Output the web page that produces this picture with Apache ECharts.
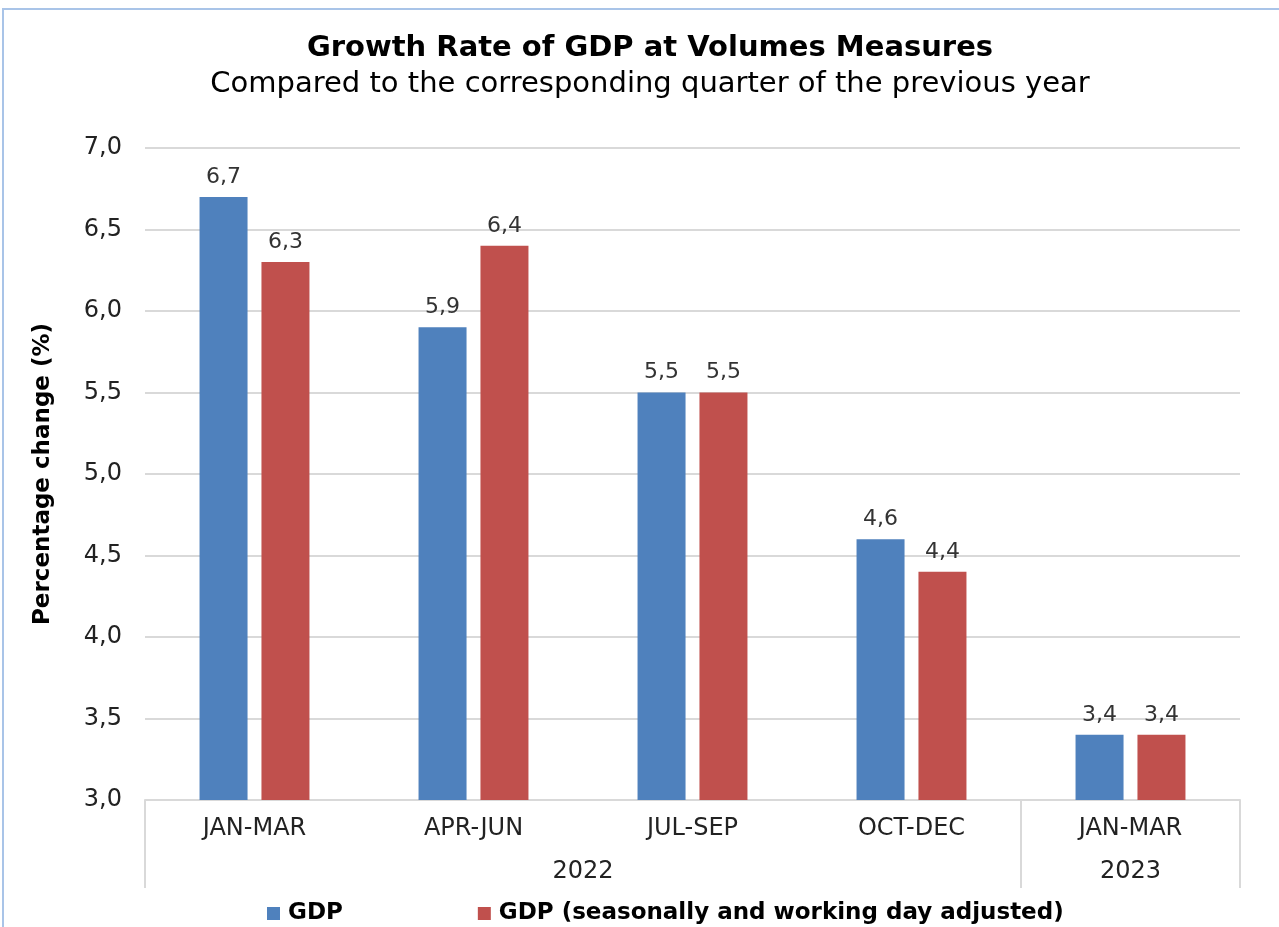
<!DOCTYPE html>
<html><head><meta charset="utf-8">
<script src="https://cdn.jsdelivr.net/npm/echarts@6/dist/echarts.min.js"></script>
<style>html,body{margin:0;padding:0;background:#fff}#c{width:1279px;height:927px}</style>
</head><body><div id="c"></div>
<script>
const quarters = ['JAN-MAR','APR-JUN','JUL-SEP','OCT-DEC','JAN-MAR'];
const yearSlots = ['', '', '', '', '2022', '', '', '', '', '2023', ''];
const gdp = [6.7, 5.9, 5.5, 4.6, 3.4];
const gdpAdj = [6.3, 6.4, 5.5, 4.4, 3.4];
const yTicks = {min: 3, max: 7, interval: 0.5};
const FONT = 'DejaVu Sans';
const fmt = v => v.toFixed(1).replace('.', ',');
const chart = echarts.init(document.getElementById('c'));
chart.setOption({
  animation: false,
  textStyle: {fontFamily: FONT},
  graphic: [{type: 'rect', shape: {x: 3, y: 9, width: 1400, height: 1000}, style: {fill: 'none', stroke: '#a9c4e8', lineWidth: 2}, z: -1}],
  title: {
    text: 'Growth Rate of GDP at Volumes Measures',
    subtext: 'Compared to the corresponding quarter of the previous year',
    left: 645, textAlign: 'center', top: 29, itemGap: 7,
    textStyle: {fontFamily: FONT, fontSize: 29, fontWeight: 'bold', color: '#000'},
    subtextStyle: {fontFamily: FONT, fontSize: 29, color: '#000'}
  },
  legend: {
    left: 262, top: 897, itemGap: 135, itemWidth: 13, itemHeight: 13,
    icon: 'rect',
    textStyle: {fontFamily: FONT, fontSize: 23, fontWeight: 'bold', color: '#000', padding: [0, 0, 0, 3]},
    data: ['GDP', 'GDP (seasonally and working day adjusted)']
  },
  grid: {left: 145, right: 39, top: 148, bottom: 127},
  xAxis: [{
    type: 'category', data: quarters, position: 'bottom',
    axisLine: {lineStyle: {color: '#d9d9d9', width: 2}},
    axisTick: {show: false},
    axisLabel: {fontFamily: FONT, fontSize: 24, color: '#222', margin: 17}
  }, {
    type: 'category', data: yearSlots, position: 'bottom', boundaryGap: false,
    axisLine: {show: false},
    axisTick: {show: true, length: 88, interval: i => i === 0 || i === 8 || i === 10, lineStyle: {color: '#d9d9d9', width: 2}},
    axisLabel: {fontFamily: FONT, fontSize: 24, color: '#222', margin: 60, interval: i => i === 4 || i === 9},
    splitLine: {show: false}
  }],
  yAxis: {
    type: 'value', min: yTicks.min, max: yTicks.max, interval: yTicks.interval,
    name: 'Percentage change (%)', nameLocation: 'middle', nameGap: 90, nameRotate: 90,
    nameTextStyle: {fontFamily: FONT, fontSize: 23, fontWeight: 'bold', color: '#000'},
    axisLine: {show: false}, axisTick: {show: false},
    axisLabel: {fontFamily: FONT, fontSize: 24, color: '#222', margin: 23, formatter: fmt},
    splitLine: {lineStyle: {color: '#d9d9d9', width: 2}}
  },
  series: [{
    name: 'GDP', type: 'bar', data: gdp, barWidth: 48, barGap: '29%',
    itemStyle: {color: '#4F81BD'},
    label: {show: true, position: 'top', distance: 9, fontFamily: FONT, fontSize: 22, color: '#333', formatter: p => fmt(p.value)}
  }, {
    name: 'GDP (seasonally and working day adjusted)', type: 'bar', data: gdpAdj, barWidth: 48,
    itemStyle: {color: '#C0504D'},
    label: {show: true, position: 'top', distance: 9, fontFamily: FONT, fontSize: 22, color: '#333', formatter: p => fmt(p.value)}
  }]
});
</script></body></html>
